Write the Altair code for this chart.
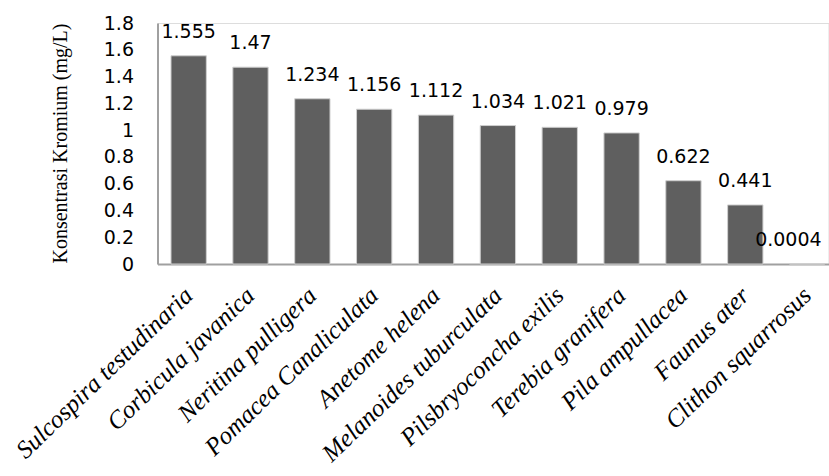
import altair as alt
import pandas as pd

species = [
    "Sulcospira testudinaria", "Corbicula javanica", "Neritina pulligera",
    "Pomacea Canaliculata", "Anetome helena", "Melanoides tuburculata",
    "Pilsbryoconcha exilis", "Terebia granifera", "Pila ampullacea",
    "Faunus ater", "Clithon squarrosus",
]
values = [1.555, 1.47, 1.234, 1.156, 1.112, 1.034, 1.021, 0.979, 0.622, 0.441, 0.0004]
labels = ["1.555", "1.47", "1.234", "1.156", "1.112", "1.034", "1.021", "0.979", "0.622", "0.441", "0.0004"]
y_ticks = [0, 0.2, 0.4, 0.6, 0.8, 1.0, 1.2, 1.4, 1.6, 1.8]

df = pd.DataFrame({"species": species, "value": values, "label": labels})
last = species[-1]

x_enc = alt.X(
    "species:N", sort=species,
    scale=alt.Scale(paddingInner=0.429, paddingOuter=0.139, align=0.785),
    axis=alt.Axis(
        title=None, labelAngle=-44, labelAlign="right", labelBaseline="middle",
        labelFont="Liberation Serif", labelFontStyle="italic", labelFontSize=25,
        labelColor="black", labelPadding=27, ticks=False, labelLimit=0,
        domainColor="#a0a0a0", domainWidth=2, labelOverlap=False,
    ),
)
y_enc = alt.Y(
    "value:Q",
    scale=alt.Scale(domain=[0, 1.8], nice=False),
    axis=alt.Axis(
        values=y_ticks, title="Konsentrasi Kromium (mg/L)",
        titleFont="Liberation Serif", titleFontSize=20, titleFontWeight="normal",
        titleColor="black", titleX=-97, titleY=120, titleAngle=-90,
        titleAlign="center", titleBaseline="middle",
        labelFont="DejaVu Sans", labelFontSize=19, labelColor="black", labelPadding=24,
        ticks=False, grid=False, domainColor="#a0a0a0", domainWidth=2,
        labelOverlap=False, labelExpr="format(datum.value, '.1~f')",
    ),
)

bars = alt.Chart(df).mark_bar(color="#5f5f5f", stroke="#cfcfcf", strokeWidth=1).encode(
    x=x_enc, y=y_enc
)
text_main = alt.Chart(df).transform_filter(alt.datum.species != last).mark_text(
    font="DejaVu Sans", fontSize=19, color="black", baseline="alphabetic", dy=-18
).encode(x=x_enc, y=y_enc, text="label:N")
text_last = alt.Chart(df).transform_filter(alt.datum.species == last).mark_text(
    font="DejaVu Sans", fontSize=19, color="black", baseline="alphabetic",
    align="left", dx=-52, dy=-18
).encode(x=x_enc, y=y_enc, text="label:N")

chart = (
    alt.layer(bars, text_main, text_last)
    .properties(
        width=671, height=241,
        autosize=alt.AutoSizeParams(type="none"),
        padding={"left": 157.5, "top": 23, "right": 0, "bottom": 212},
    )
    .configure_view(stroke=None)
    .configure(background="white")
)

chart.save("out.html", embed_options={"renderer": "svg", "actions": False})
